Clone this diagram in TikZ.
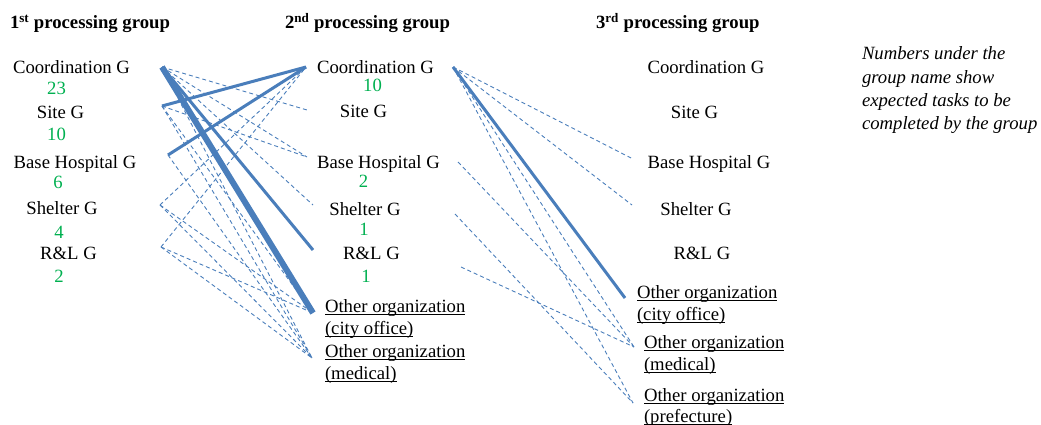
\documentclass[tikz,border=0pt]{standalone}
\usepackage{fontspec}
\setmainfont{Liberation Serif}
\definecolor{link}{RGB}{74,126,187}
\definecolor{tasks}{RGB}{0,176,80}
% underline placed just under the baseline, as a word processor does
\newcommand\wordul[1]{\setbox0\hbox{#1}\rlap{\rule[-2.4pt]{\wd0}{0.8pt}}\box0}
\begin{document}
\begin{tikzpicture}[x=1pt,y=-1pt,
  every node/.style={inner sep=0pt, outer sep=0pt, font=\fontsize{18.7}{22.5}\selectfont},
  grp/.style={anchor=base},
  head/.style={anchor=base west, font=\fontsize{18.7}{22.5}\selectfont\bfseries},
  num/.style={anchor=base, text=tasks},
  org/.style={anchor=base west},
  note/.style={anchor=base west, font=\fontsize{18.7}{22.5}\selectfont\itshape},
  weak/.style={draw=link, line width=0.9pt, dash pattern=on 4pt off 3pt},
  strong/.style={draw=link, line width=3pt},
  heavy/.style={draw=link, line width=6pt}]
\useasboundingbox (0,0) rectangle (1041,425);

% headings
\node[head] (h1) at (10,29) {1\textsuperscript{st} processing group};
\node[head] (h2) at (285,29) {2\textsuperscript{nd} processing group};
\node[head] (h3) at (596,29) {3\textsuperscript{rd} processing group};

% first group
\node[grp] (coordA) at (71.5,74) {Coordination G};
\node[num] (coordAn) at (56.5,95) {23};
\node[grp] (siteA) at (60.5,119) {Site G};
\node[num] (siteAn) at (56.5,140) {10};
\node[grp] (baseA) at (75,168) {Base Hospital G};
\node[num] (baseAn) at (58,188) {6};
\node[grp] (shelA) at (62,214) {Shelter G};
\node[num] (shelAn) at (59,238) {4};
\node[grp] (rlA) at (68.5,259) {R\&L G};
\node[num] (rlAn) at (59,282) {2};

% second group
\node[grp] (coordB) at (375.5,74) {Coordination G};
\node[num] (coordBn) at (372.5,92) {10};
\node[grp] (siteB) at (363.5,118) {Site G};
\node[grp] (baseB) at (378.5,168) {Base Hospital G};
\node[num] (baseBn) at (363.5,187) {2};
\node[grp] (shelB) at (365,215) {Shelter G};
\node[num] (shelBn) at (364,235) {1};
\node[grp] (rlB) at (371.5,259) {R\&L G};
\node[num] (rlBn) at (366,282) {1};
\node[org] (cityB) at (325,312) {\wordul{Other organization}};
\node[org] (cityBb) at (325,334) {\wordul{(city office)}};
\node[org] (medB) at (325,357) {\wordul{Other organization}};
\node[org] (medBb) at (325,379) {\wordul{(medical)}};

% third group
\node[grp] (coordC) at (706,74) {Coordination G};
\node[grp] (siteC) at (694.5,119) {Site G};
\node[grp] (baseC) at (709,168) {Base Hospital G};
\node[grp] (shelC) at (696,215) {Shelter G};
\node[grp] (rlC) at (702,259) {R\&L G};
\node[org] (cityC) at (637,298) {\wordul{Other organization}};
\node[org] (cityCb) at (637,320) {\wordul{(city office)}};
\node[org] (medC) at (644,348) {\wordul{Other organization}};
\node[org] (medCb) at (644,370) {\wordul{(medical)}};
\node[org] (prefC) at (644,401) {\wordul{Other organization}};
\node[org] (prefCb) at (644,422) {\wordul{(prefecture)}};

% explanatory note
\node[note] (noteA) at (862,60) {Numbers under the};
\node[note] (noteB) at (862,83.5) {group name show};
\node[note] (noteC) at (862,106.5) {expected tasks to be};
\node[note] (noteD) at (862,129.5) {completed by the group};

% connector ends beside the group names
\coordinate (coordAR) at (162,67);
\coordinate (siteAR) at (162,106);
\coordinate (baseAR) at (168,155);
\coordinate (shelAR) at (160,205);
\coordinate (rlAR) at (161,247);

\coordinate (coordBL) at (306,67);
\coordinate (siteBL) at (307,110);
\coordinate (baseBL) at (307,157);
\coordinate (shelBL) at (313,205);
\coordinate (rlBL) at (313,250);
\coordinate (cityBL) at (313,313);
\coordinate (medBL) at (312,358);

\coordinate (coordBR) at (453,67);
\coordinate (baseBR) at (458,162);
\coordinate (shelBR) at (455,214);
\coordinate (rlBR) at (461,267);

\coordinate (baseCL) at (633,159);
\coordinate (shelCL) at (632,205);
\coordinate (cityCL) at (625,298);
\coordinate (medCL) at (634,347);
\coordinate (prefCL) at (633,403);

% first to second group, occasional hand-overs
\draw[weak] (coordAR) -- (siteBL);
\draw[weak] (coordAR) -- (baseBL);
\draw[weak] (coordAR) -- (shelBL);
\draw[weak] (coordAR) -- (medBL);
\draw[weak] (siteAR) -- (baseBL);
\draw[weak] (siteAR) -- (cityBL);
\draw[weak] (siteAR) -- (medBL);
\draw[weak] (baseAR) -- (medBL);
\draw[weak] (shelAR) -- (coordBL);
\draw[weak] (shelAR) -- (cityBL);
\draw[weak] (shelAR) -- (medBL);
\draw[weak] (rlAR) -- (coordBL);
\draw[weak] (rlAR) -- (cityBL);
\draw[weak] (rlAR) -- (medBL);

% first to second group, main hand-overs
\draw[strong] (siteAR) -- (coordBL);
\draw[strong] (baseAR) -- (coordBL);
\draw[strong] (coordAR) -- (rlBL);
\draw[heavy] (coordAR) -- (cityBL);

% second to third group
\draw[weak] (coordBR) -- (baseCL);
\draw[weak] (coordBR) -- (shelCL);
\draw[weak] (coordBR) -- (medCL);
\draw[weak] (coordBR) -- (prefCL);
\draw[weak] (baseBR) -- (medCL);
\draw[weak] (shelBR) -- (prefCL);
\draw[weak] (rlBR) -- (medCL);
\draw[strong] (coordBR) -- (cityCL);
\end{tikzpicture}
\end{document}
